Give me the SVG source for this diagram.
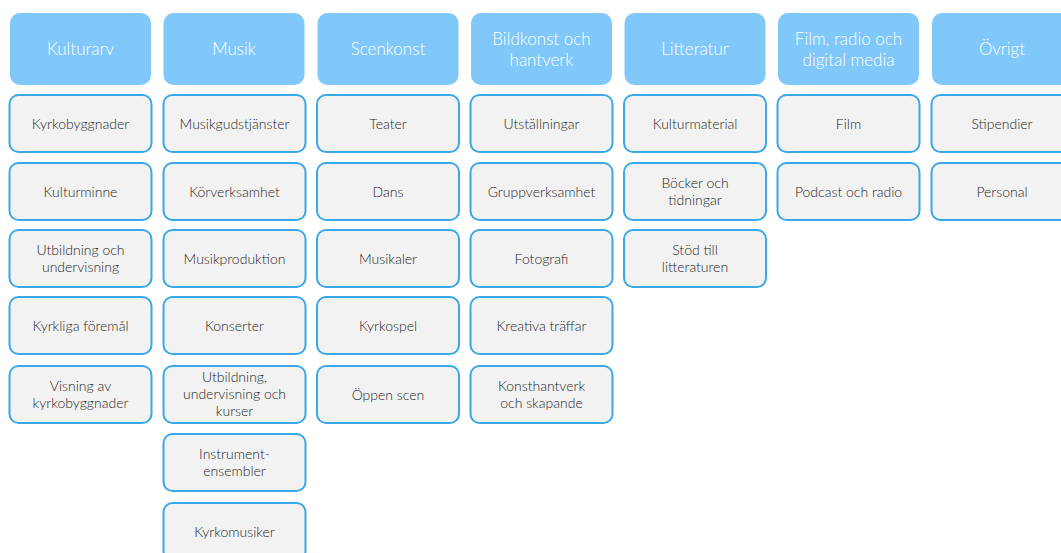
<svg xmlns="http://www.w3.org/2000/svg" width="1061" height="553" viewBox="0 0 1061 553">
<style>
.h rect{fill:#80c8fa;stroke:none}
.h text{fill:#ffffff;font-family:Lato,"Open Sans",sans-serif;font-size:17px;font-weight:300;text-anchor:middle;dominant-baseline:central}
.c rect{fill:#f2f2f2;stroke:#3aa8e8;stroke-width:2}
.c text{fill:#262626;font-family:Lato,"Open Sans",sans-serif;font-size:14px;font-weight:300;text-anchor:middle;dominant-baseline:central}
</style>
<rect width="1061" height="553" fill="#ffffff"/>
<g id="connectors"/>
<!-- Column 1 -->
<g id="h1" class="h"><rect x="10" y="13" width="141" height="72" rx="10"/><text x="80.5" y="48.5">Kulturarv</text></g>
<g id="c1r1" class="c"><rect x="9.5" y="95" width="142" height="57" rx="9"/><text x="80.5" y="123">Kyrkobyggnader</text></g>
<g id="c1r2" class="c"><rect x="9.5" y="163" width="142" height="57" rx="9"/><text x="80.5" y="191">Kulturminne</text></g>
<g id="c1r3" class="c"><rect x="9.5" y="230" width="142" height="57" rx="9"/><text x="80.5" y="249.5">Utbildning och</text><text x="80.5" y="266.5">undervisning</text></g>
<g id="c1r4" class="c"><rect x="9.5" y="297" width="142" height="57" rx="9"/><text x="80.5" y="325">Kyrkliga föremål</text></g>
<g id="c1r5" class="c"><rect x="9.5" y="366" width="142" height="57" rx="9"/><text x="80.5" y="385.5">Visning av</text><text x="80.5" y="402.5">kyrkobyggnader</text></g>
<!-- Column 2 -->
<g id="h2" class="h"><rect x="163.5" y="13" width="141" height="72" rx="10"/><text x="234" y="48.5">Musik</text></g>
<g id="c2r1" class="c"><rect x="163.5" y="95" width="142" height="57" rx="9"/><text x="234.5" y="123">Musikgudstjänster</text></g>
<g id="c2r2" class="c"><rect x="163.5" y="163" width="142" height="57" rx="9"/><text x="234.5" y="191">Körverksamhet</text></g>
<g id="c2r3" class="c"><rect x="163.5" y="230" width="142" height="57" rx="9"/><text x="234.5" y="258">Musikproduktion</text></g>
<g id="c2r4" class="c"><rect x="163.5" y="297" width="142" height="57" rx="9"/><text x="234.5" y="325">Konserter</text></g>
<g id="c2r5" class="c"><rect x="163.5" y="366" width="142" height="57" rx="9"/><text x="234.5" y="376.5">Utbildning,</text><text x="234.5" y="393.5">undervisning och</text><text x="234.5" y="410.5">kurser</text></g>
<g id="c2r6" class="c"><rect x="163.5" y="434" width="142" height="57" rx="9"/><text x="234.5" y="453.5">Instrument-</text><text x="234.5" y="470.5">ensembler</text></g>
<g id="c2r7" class="c"><rect x="163.5" y="503" width="142" height="57" rx="9"/><text x="234.5" y="531">Kyrkomusiker</text></g>
<!-- Column 3 -->
<g id="h3" class="h"><rect x="317.5" y="13" width="141" height="72" rx="10"/><text x="388" y="48.5">Scenkonst</text></g>
<g id="c3r1" class="c"><rect x="317" y="95" width="142" height="57" rx="9"/><text x="388" y="123">Teater</text></g>
<g id="c3r2" class="c"><rect x="317" y="163" width="142" height="57" rx="9"/><text x="388" y="191">Dans</text></g>
<g id="c3r3" class="c"><rect x="317" y="230" width="142" height="57" rx="9"/><text x="388" y="258">Musikaler</text></g>
<g id="c3r4" class="c"><rect x="317" y="297" width="142" height="57" rx="9"/><text x="388" y="325">Kyrkospel</text></g>
<g id="c3r5" class="c"><rect x="317" y="366" width="142" height="57" rx="9"/><text x="388" y="394">Öppen scen</text></g>
<!-- Column 4 -->
<g id="h4" class="h"><rect x="471" y="13" width="141" height="72" rx="10"/><text x="541.5" y="38.5">Bildkonst och</text><text x="541.5" y="59.5">hantverk</text></g>
<g id="c4r1" class="c"><rect x="470.5" y="95" width="142" height="57" rx="9"/><text x="541.5" y="123">Utställningar</text></g>
<g id="c4r2" class="c"><rect x="470.5" y="163" width="142" height="57" rx="9"/><text x="541.5" y="191">Gruppverksamhet</text></g>
<g id="c4r3" class="c"><rect x="470.5" y="230" width="142" height="57" rx="9"/><text x="541.5" y="258">Fotografi</text></g>
<g id="c4r4" class="c"><rect x="470.5" y="297" width="142" height="57" rx="9"/><text x="541.5" y="325">Kreativa träffar</text></g>
<g id="c4r5" class="c"><rect x="470.5" y="366" width="142" height="57" rx="9"/><text x="541.5" y="385.5">Konsthantverk</text><text x="541.5" y="402.5">och skapande</text></g>
<!-- Column 5 -->
<g id="h5" class="h"><rect x="624.5" y="13" width="141" height="72" rx="10"/><text x="695" y="48.5">Litteratur</text></g>
<g id="c5r1" class="c"><rect x="624" y="95" width="142" height="57" rx="9"/><text x="695" y="123">Kulturmaterial</text></g>
<g id="c5r2" class="c"><rect x="624" y="163" width="142" height="57" rx="9"/><text x="695" y="182.5">Böcker och</text><text x="695" y="199.5">tidningar</text></g>
<g id="c5r3" class="c"><rect x="624" y="230" width="142" height="57" rx="9"/><text x="695" y="249.5">Stöd till</text><text x="695" y="266.5">litteraturen</text></g>
<!-- Column 6 -->
<g id="h6" class="h"><rect x="778" y="13" width="141" height="72" rx="10"/><text x="848.5" y="38.5">Film, radio och</text><text x="848.5" y="59.5">digital media</text></g>
<g id="c6r1" class="c"><rect x="777.5" y="95" width="142" height="57" rx="9"/><text x="848.5" y="123">Film</text></g>
<g id="c6r2" class="c"><rect x="777.5" y="163" width="142" height="57" rx="9"/><text x="848.5" y="191">Podcast och radio</text></g>
<!-- Column 7 -->
<g id="h7" class="h"><rect x="932" y="13" width="141" height="72" rx="10"/><text x="1002" y="48.5">Övrigt</text></g>
<g id="c7r1" class="c"><rect x="931.5" y="95" width="142" height="57" rx="9"/><text x="1002" y="123">Stipendier</text></g>
<g id="c7r2" class="c"><rect x="931.5" y="163" width="142" height="57" rx="9"/><text x="1002" y="191">Personal</text></g>
</svg>
